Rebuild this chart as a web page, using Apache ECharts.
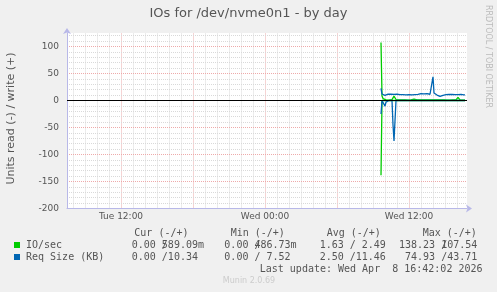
<!DOCTYPE html>
<html><head><meta charset="utf-8">
<script src="https://cdn.jsdelivr.net/npm/echarts@6/dist/echarts.min.js"></script>
<style>html,body{margin:0;padding:0;background:#f0f0f0}#c{width:497px;height:292px}</style>
</head><body><div id="c"></div>
<script>
// ---------------- data ----------------
const chartTitle = 'IOs for /dev/nvme0n1 - by day';
const yAxisName = 'Units read (-) / write (+)';
const xTickHours = [12, 24, 36];               // hours since Tue 00:00
const xTickLabels = ['Tue 12:00', 'Wed 00:00', 'Wed 12:00'];
const yTickValues = [-200, -150, -100, -50, 0, 50, 100];
const seriesNames = ['IO/sec', 'Req Size (KB)'];
const dataStartHour = 33 + 40 / 60;           // Wed 09:40
const stepMinutes = 5;

const ioWrite = [107.54, 8.2, 3.6, 1.9, 1.3, 1.0, 0.9, 1.1, 0.8, 1.0,
  1.2, 1.6, 3.5, 8.0, 6.5, 1.8, 1.0, 0.9, 1.1, 0.8,
  1.0, 0.9, 1.2, 0.7, 1.0, 0.9, 1.1, 0.8, 1.0, 0.9,
  1.2, 1.0, 1.4, 2.6, 1.3, 0.9, 1.0, 0.8, 1.1, 0.9,
  1.0, 1.2, 0.9, 1.0, 0.8, 1.1, 0.9, 1.0, 1.2, 0.9,
  1.0, 1.1, 1.3, 0.9, 1.0, 0.8, 0.9, 1.0, 0.8, 1.1,
  0.9, 1.0, 0.7, 0.9, 1.0, 1.1, 0.8, 0.9, 1.0, 0.8,
  1.2, 0.9, 1.0, 0.8, 0.9, 1.1, 2.2, 5.8, 2.4, 1.0,
  0.8, 0.9, 0.7, 0.49, 0.589];
const ioRead = [-138.23, 0, 0, 0, 0, 0, 0, 0, 0, 0,
  0, 0, 0, 0, 0, 0, 0, 0, 0, 0,
  0, 0, 0, 0, 0, 0, 0, 0, 0, 0,
  0, 0, 0, 0, 0, 0, 0, 0, 0, 0,
  0, 0, 0, 0, 0, 0, 0, 0, 0, 0,
  0, 0, 0, 0, 0, 0, 0, 0, 0, 0,
  0, 0, 0, 0, 0, 0, 0, 0, 0, 0,
  0, 0, 0, 0, 0, 0, 0, -1.0, 0, 0,
  0, 0, 0, 0, 0];
const reqWrite = [22.5, 12.0, 11.2, 12.4, 9.6, 11.0, 12.1, 11.6, 12.3, 11.1,
  11.8, 12.0, 10.4, 11.2, 12.2, 11.0, 11.6, 11.2, 12.0, 10.8,
  11.3, 10.6, 11.0, 10.4, 10.9, 10.5, 11.2, 10.6, 10.8, 10.3,
  11.0, 10.5, 11.1, 10.7, 11.0, 10.4, 10.9, 11.3, 10.8, 12.1,
  12.8, 12.2, 13.0, 12.4, 12.9, 12.0, 12.6, 11.8, 12.3, 11.6,
  11.2, 13.5, 43.71, 14.0, 11.8, 12.2, 10.1, 9.4, 8.3, 7.52,
  8.4, 9.0, 9.6, 10.8, 11.2, 10.9, 11.4, 11.0, 11.3, 10.7,
  11.6, 11.1, 10.9, 11.4, 10.8, 11.2, 10.6, 11.0, 10.4, 10.9,
  11.2, 10.6, 10.8, 10.5, 10.34];
const reqRead = [-25.0, 0, 0, -2.0, -10.5, -3.0, 0, 0, 0, 0,
  0, 0, -45, -74.93, -73, 0, 0, 0, 0, 0,
  0, 0, 0, 0, 0, 0, 0, 0, 0, 0,
  0, 0, 0, 0, 0, 0, 0, 0, 0, 0,
  0, 0, 0, 0, 0, 0, 0, 0, 0, 0,
  0, 0, 0, 0, 0, 0, 0, 0, 0, 0,
  0, 0, 0, 0, 0, 0, 0, 0, 0, 0,
  0, 0, 0, 0, 0, 0, 0, 0, 0, 0,
  0, 0, 0, 0, 0];

const statHeaders = ['Cur (-/+)', 'Min (-/+)', 'Avg (-/+)', 'Max (-/+)'];
const ioStats = [['0.00', '589.09m'], ['0.00', '486.73m'], ['1.63', '2.49'], ['138.23', '107.54']];
const reqStats = [['0.00', '10.34'], ['0.00', '7.52'], ['2.50', '11.46'], ['74.93', '43.71']];
const lastUpdate = 'Last update: Wed Apr  8 16:42:02 2026';
const versionText = 'Munin 2.0.69';
const sideText = 'RRDTOOL / TOBI OETIKER';

// ---------------- layout / style ----------------
const GREEN = '#00cc00', BLUE = '#0066b3';
const SANS = '"DejaVu Sans", sans-serif';
const MONO = '"DejaVu Sans Mono", monospace';
const TXT = '#555555';
const CW = 6.02; // mono char width at 10px
const xMin = 7.5, xMax = 7.5 + 400 / 12;

function toXY(arr) { return arr.map((v, i) => [dataStartHour + i * stepMinutes / 60, v]); }

// grid lines (hourly vertical, every 10 units horizontal)
const MINOR = '#d9d9d9', MAJOR = '#eeaaaa';
const gridLines = [];
for (let h = 8; h < xMax; h++) {
  const major = h % 6 === 0;
  gridLines.push({xAxis: h, lineStyle: {color: major ? MAJOR : MINOR, type: [1, 1], width: 1}});
}
for (let v = -190; v <= 120; v += 10) {
  if (v === 0) continue;
  const major = v % 50 === 0;
  gridLines.push({yAxis: v, lineStyle: {color: major ? MAJOR : MINOR, type: [1, 1], width: 1}});
}

function lineSeries(name, data, color, z) {
  return {type: 'line', name, data: toXY(data), showSymbol: false, symbol: 'none',
    lineStyle: {color, width: 1.3}, itemStyle: {color}, z, silent: true, animation: false,
    connectNulls: false};
}

const graphics = [];
function txt(x, y, text, font, fill, align, rot) {
  graphics.push({type: 'text', x, y, rotation: rot || 0, silent: true,
    style: {text, font, fill, textAlign: align || 'left', textVerticalAlign: 'middle'}});
}
txt(248.5, 13.5, chartTitle, '13px ' + SANS, TXT, 'center');
txt(11, 118.5, yAxisName, '11px ' + SANS, TXT, 'center', Math.PI / 2);
txt(488.5, 5, sideText, '8px ' + SANS, '#bbbbbb', 'left', -Math.PI / 2);

const headerX = [134.3, 230.7, 326.7, 422.7];
const colX = [119.7, 212.3, 307.6, 399.0];
const yHead = 233, yRow1 = 245, yRow2 = 257;
statHeaders.forEach((h, i) => txt(headerX[i], yHead, h, '10px ' + MONO, TXT));
function statRow(stats, y) {
  stats.forEach((s, i) => {
    const x0 = colX[i];
    const left = s[0];
    txt(x0 + (6 - left.length) * CW, y, left, '10px ' + MONO, TXT);
    txt(x0 + 7 * CW, y, '/', '10px ' + MONO, TXT);
    const num = s[1].match(/^[\d.]+/)[0];
    txt(x0 + (13 - num.length) * CW, y, s[1], '10px ' + MONO, TXT);
  });
}
graphics.push({type: 'rect', shape: {x: 14, y: yRow1 - 3, width: 6, height: 6}, style: {fill: GREEN}, silent: true});
graphics.push({type: 'rect', shape: {x: 14, y: yRow2 - 3, width: 6, height: 6}, style: {fill: BLUE}, silent: true});
txt(26, yRow1, seriesNames[0], '10px ' + MONO, TXT);
txt(26, yRow2, seriesNames[1], '10px ' + MONO, TXT);
statRow(ioStats, yRow1);
statRow(reqStats, yRow2);
txt(482.5, 269, lastUpdate, '10px ' + MONO, TXT, 'right');
txt(249, 281, versionText, '8px ' + SANS, '#cccccc', 'center');

const axisCol = '#b8b8e8';
const option = {
  backgroundColor: '#f0f0f0',
  animation: false,
  grid: {left: 67, top: 33, width: 400, height: 175.5, show: true, backgroundColor: '#ffffff', borderWidth: 0},
  xAxis: {
    type: 'value', min: xMin, max: xMax,
    axisLine: {show: true, onZero: false, lineStyle: {color: axisCol, width: 1},
      symbol: ['none', 'arrow'], symbolSize: [6, 6], symbolOffset: [0, 5]},
    axisTick: {show: false}, splitLine: {show: false},
    axisLabel: {customValues: xTickHours, color: TXT, fontFamily: SANS, fontSize: 9, margin: 4,
      formatter: v => xTickLabels[xTickHours.indexOf(v)] || ''}
  },
  yAxis: {
    type: 'value', min: -200, max: 125,
    axisLine: {show: true, onZero: false, lineStyle: {color: axisCol, width: 1},
      symbol: ['none', 'arrow'], symbolSize: [6, 6], symbolOffset: [0, 5]},
    axisTick: {show: false}, splitLine: {show: false},
    axisLabel: {customValues: yTickValues, color: TXT, fontFamily: SANS, fontSize: 9, margin: 8}
  },
  series: [
    {type: 'line', data: [], z: 0, silent: true,
      markLine: {silent: true, z: 0, symbol: ['none', 'none'], label: {show: false}, animation: false, data: gridLines}},
    lineSeries(seriesNames[0] + ' write', ioWrite, GREEN, 10),
    lineSeries(seriesNames[0] + ' read', ioRead, GREEN, 10),
    lineSeries(seriesNames[1] + ' write', reqWrite, BLUE, 11),
    lineSeries(seriesNames[1] + ' read', reqRead, BLUE, 11),
    {type: 'line', data: [], z: 12, silent: true,
      markLine: {silent: true, z: 12, symbol: ['none', 'none'], label: {show: false}, animation: false,
        data: [{yAxis: 0, lineStyle: {color: '#000000', type: 'solid', width: 1}}]}}
  ],
  graphic: graphics
};
const chart = echarts.init(document.getElementById('c'), null, {renderer: 'canvas'});
chart.setOption(option);
</script></body></html>
